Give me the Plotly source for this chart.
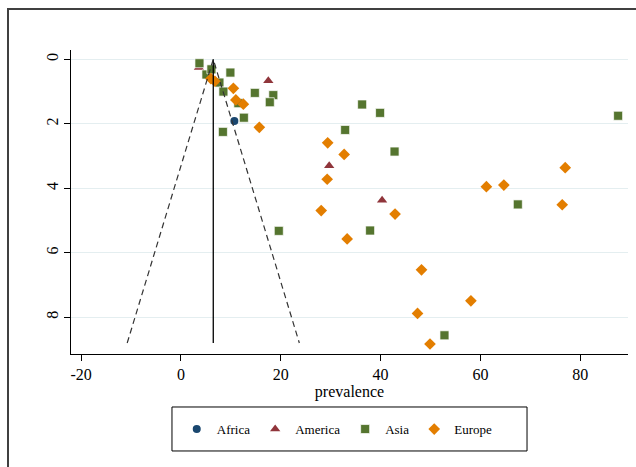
import plotly.graph_objects as go

# ---- data ----
africa_x = [10.7]
africa_se = [1.91]

america_x = [3.6, 17.5, 29.7, 40.3]
america_se = [0.25, 0.66, 3.30, 4.37]

asia_x = [3.7, 5.1, 6.1, 7.7, 8.5, 9.9, 11.5, 14.8, 18.5, 17.8, 12.6, 8.4, 19.6,
          36.3, 39.9, 32.9, 42.8, 87.6, 67.5, 37.9, 52.8]
asia_se = [0.12, 0.47, 0.31, 0.72, 1.00, 0.41, 1.36, 1.04, 1.11, 1.33, 1.81, 2.25, 5.32,
           1.40, 1.66, 2.19, 2.86, 1.75, 4.50, 5.31, 8.56]

europe_x = [6.0, 6.8, 10.5, 11.0, 12.5, 15.7, 29.4, 32.7, 29.3, 28.1, 42.9, 33.3,
            61.2, 64.7, 77.0, 76.4, 48.2, 47.4, 49.9, 58.1]
europe_se = [0.60, 0.68, 0.90, 1.26, 1.39, 2.11, 2.59, 2.95, 3.72, 4.69, 4.80, 5.57,
             3.95, 3.90, 3.36, 4.51, 6.53, 7.88, 8.83, 7.49]

pooled = 6.47
se_max = 8.8
z = 1.96

x_ticks = [-20, 0, 20, 40, 60, 80]
x_tick_labels = ["-20", "0", "20", "40", "60", "80"]
y_ticks = [0, 2, 4, 6, 8]
y_tick_labels = ["0", "2", "4", "6", "8"]

# ---- figure ----
fig = go.Figure()
fig.add_trace(go.Scatter(x=africa_x, y=africa_se, mode="markers", name="Africa",
                         marker=dict(symbol="circle", size=8, color="#1a476f")))
fig.add_trace(go.Scatter(x=america_x, y=america_se, mode="markers", name="America",
                         marker=dict(symbol="triangle-up", size=9, color="#90353b")))
fig.add_trace(go.Scatter(x=asia_x, y=asia_se, mode="markers", name="Asia",
                         marker=dict(symbol="square", size=9, color="#55752f",
                                     line=dict(color="rgba(255,255,255,0.7)", width=1))))
fig.add_trace(go.Scatter(x=europe_x, y=europe_se, mode="markers", name="Europe",
                         marker=dict(symbol="diamond", size=9, color="#e37e00")))

# funnel lines
fig.add_trace(go.Scatter(x=[pooled, pooled], y=[0, se_max], mode="lines",
                         line=dict(color="black", width=1.3), showlegend=False,
                         hoverinfo="skip"))
fig.add_trace(go.Scatter(x=[pooled - z * se_max, pooled, pooled + z * se_max],
                         y=[se_max, 0, se_max], mode="lines",
                         line=dict(color="#333333", width=1.2, dash="6px,4px"),
                         showlegend=False, hoverinfo="skip"))

fig.update_layout(
    width=636, height=467,
    margin=dict(l=71, r=8, t=50, b=113),
    paper_bgcolor="white", plot_bgcolor="white",
    font=dict(family="Liberation Serif", color="black", size=16),
    showlegend=True,
    legend=dict(orientation="h", x=0.478, xanchor="center", y=-0.247, yanchor="middle",
                font=dict(size=13), bgcolor="rgba(0,0,0,0)", borderwidth=0,
                itemwidth=30),
    shapes=[
        dict(type="rect", xref="paper", yref="paper", x0=0.1813, x1=0.8187,
             y0=-0.319, y1=-0.1743, line=dict(color="black", width=1)),
        dict(type="rect", xref="paper", yref="paper", x0=-0.1131, x1=1.3,
             y0=-0.6, y1=1.1349, line=dict(color="#404040", width=2)),
    ],
)

fig.update_xaxes(range=[-22.04, 89.58], tickvals=x_ticks, ticktext=x_tick_labels,
                 showgrid=False, zeroline=False,
                 showline=True, linecolor="black", linewidth=1, ticks="outside",
                 ticklen=6, tickcolor="black", tickfont=dict(size=16),
                 title=dict(text="prevalence", font=dict(size=16), standoff=0))
fig.update_yaxes(range=[9.14, -0.29], tickvals=y_ticks, ticktext=y_tick_labels,
                 showgrid=True, gridcolor="#e4eef0", gridwidth=1, zeroline=False,
                 showline=True, linecolor="black", linewidth=1, ticks="outside",
                 ticklen=6, tickcolor="black", tickangle=-90, tickfont=dict(size=16))

fig.write_html("out.html")
